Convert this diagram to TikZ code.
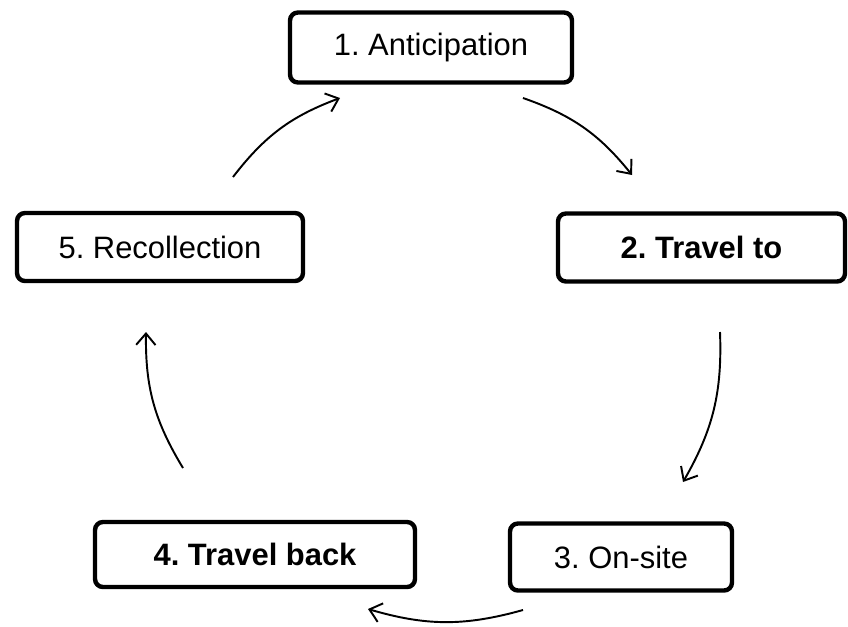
\documentclass[tikz,border=0pt]{standalone}
\usepackage{fontspec}
\setmainfont{Liberation Sans}
\usepackage{tikz}
\usetikzlibrary{arrows.meta}
\frenchspacing

\begin{document}
\begin{tikzpicture}[
  x=0.02cm, y=-0.02cm,
  stage/.style={rectangle, rounded corners=4.5pt, draw=black, fill=white, line width=2.5pt, inner sep=0pt, font=\fontsize{17.6}{21}\selectfont, align=center},
  arr/.style={-{Straight Barb[length=6.5pt, width=11pt]}, line width=1.1pt},
]
\useasboundingbox (0,0) rectangle (848,626);

% Stages
\node[stage, minimum width=5.64cm, minimum height=1.40cm] (antic) at (431,47.5) {1. Anticipation};
\node[stage, minimum width=5.74cm, minimum height=1.36cm, font=\fontsize{17.6}{21}\selectfont\bfseries] (travelto) at (701.5,247.5) {2. Travel to};
\node[stage, minimum width=4.44cm, minimum height=1.34cm] (onsite) at (621,557) {3. On-site};
\node[stage, minimum width=6.40cm, minimum height=1.30cm, font=\fontsize{17.6}{21}\selectfont\bfseries] (travelback) at (255,554.5) {4. Travel back};
\node[stage, minimum width=5.72cm, minimum height=1.36cm] (recoll) at (160,247) {5. Recollection};

% Arrow ends
\coordinate (a1s) at (523,98);
\coordinate (a1e) at (632,175);
\coordinate (a2s) at (720,332);
\coordinate (a2e) at (683,482);
\coordinate (a3s) at (523,610);
\coordinate (a3e) at (368,609);
\coordinate (a4s) at (183,468);
\coordinate (a4e) at (146,332);
\coordinate (a5s) at (233,177);
\coordinate (a5e) at (340,98);

\draw[arr] (a1s) to[bend left=16] (a1e);
\draw[arr] (a2s) to[bend left=16] (a2e);
\draw[arr] (a3s) to[bend left=16] (a3e);
\draw[arr] (a4s) to[bend left=16] (a4e);
\draw[arr] (a5s) to[bend left=16] (a5e);

\end{tikzpicture}
\end{document}
